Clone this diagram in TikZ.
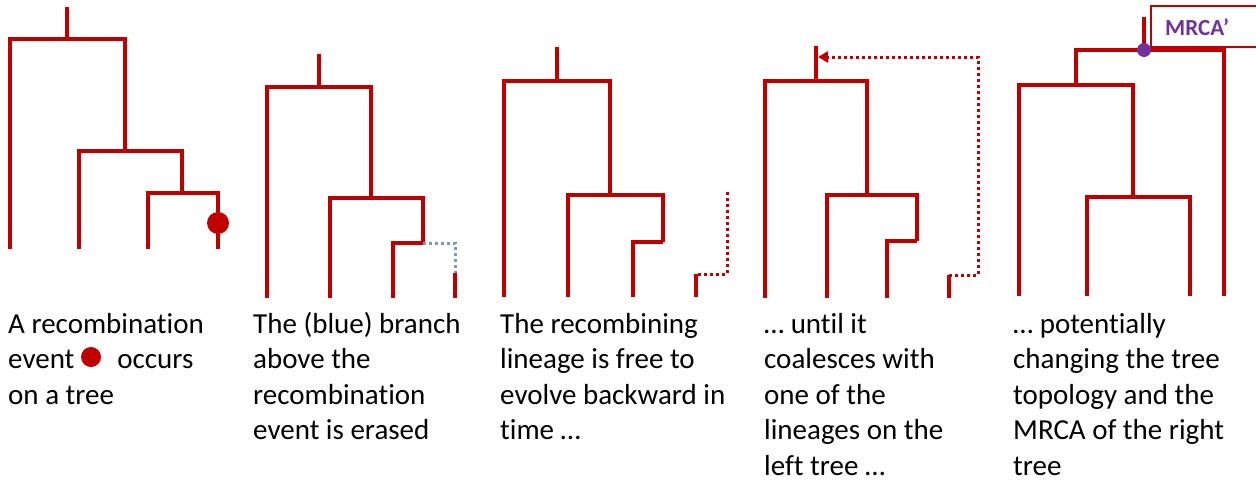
\documentclass[tikz,border=0pt]{standalone}
\usepackage{fontspec}
\setmainfont{Carlito}[Ligatures=NoCommon]
\usepackage{tikz}
\usetikzlibrary{arrows.meta}
\definecolor{treered}{HTML}{C00000}
\definecolor{erased}{HTML}{8497B0}
\definecolor{mrcapurple}{HTML}{7030A0}
\tikzset{
  branch/.style={treered,line width=3.5pt},
  dots/.style={line width=3pt,dash pattern=on 3pt off 3pt},
  caption/.style={anchor=base west,align=left,inner sep=0pt,font={\fontsize{29}{35.5}\selectfont}}
}
\begin{document}
\begin{tikzpicture}[x=1pt,y=-1pt]
\useasboundingbox (0,0) rectangle (1256,482);
% tree 1
\draw[branch] (67,7) -- (67,39);
\draw[branch] (10,249) -- (10,39) -- (125,39) -- (125,151);
\draw[branch] (79,249) -- (79,151) -- (182,151) -- (182,193);
\draw[branch] (148,249) -- (148,193) -- (218,193) -- (218,249);
\fill[treered] (218,223) circle (11);
% tree 2
\draw[branch] (319,54) -- (319,87);
\draw[branch] (267,298) -- (267,87) -- (371,87) -- (371,198);
\draw[branch] (330,298) -- (330,198) -- (423,198) -- (423,243);
\draw[branch] (393,298) -- (393,243) -- (423,243);
\draw[dots,erased] (423,243) -- (455,243) -- (455,273);
\draw[branch] (455,273) -- (455,298);
% tree 3
\draw[branch] (557,47) -- (557,81);
\draw[branch] (504,297) -- (504,81) -- (610,81) -- (610,195);
\draw[branch] (568,297) -- (568,195) -- (663,195) -- (663,242);
\draw[branch] (633,297) -- (633,242) -- (663,242);
\draw[dots,treered] (727,192) -- (727,274) -- (696,274);
\draw[branch] (696,274) -- (696,297);
% tree 4
\draw[branch] (816,46) -- (816,81);
\coordinate (hit) at (818,57);
\draw[branch] (765,298) -- (765,81) -- (867,81) -- (867,195);
\draw[branch] (827,298) -- (827,195) -- (917,195) -- (917,241);
\draw[branch] (887,298) -- (887,241) -- (917,241);
\draw[dots,treered,-{Triangle[length=10pt,width=11pt]}] (949,275) -- (978,275) -- (978,57) -- (hit);
\draw[branch] (949,275) -- (949,298);
% tree 5
\draw[branch] (1144,17) -- (1144,50);
\draw[branch] (1224,296) -- (1224,50) -- (1076,50) -- (1076,85);
\draw[branch] (1019,296) -- (1019,85) -- (1133,85) -- (1133,197);
\draw[branch] (1087,296) -- (1087,197) -- (1190,197) -- (1190,296);
\draw[treered,line width=2pt] (1256,6) -- (1151,6) -- (1151,47) -- (1256,47);
\node[anchor=west,inner sep=0pt,text=mrcapurple,font={\fontsize{23}{26}\selectfont\bfseries}] (mrca) at (1165,27) {MRCA’};
\fill[mrcapurple] (1144,50) circle (7);
% captions (anchored at the baseline of the last line)
\node[caption] (cap1) at (8,404) {A recombination\\event\hspace{43pt}occurs\\on a tree};
\fill[treered] (91,357) circle (10);
\node[caption] (cap2) at (253,439.5) {The (blue) branch\\above the\\recombination\\event is erased};
\node[caption] (cap3) at (500,439.5) {The recombining\\lineage is free to\\evolve backward in\\time …};
\node[caption] (cap4) at (764,475) {… until it\\coalesces with\\one of the\\lineages on the\\left tree …};
\node[caption] (cap5) at (1013,475) {… potentially\\changing the tree\\topology and the\\MRCA of the right\\tree};
\end{tikzpicture}
\end{document}
